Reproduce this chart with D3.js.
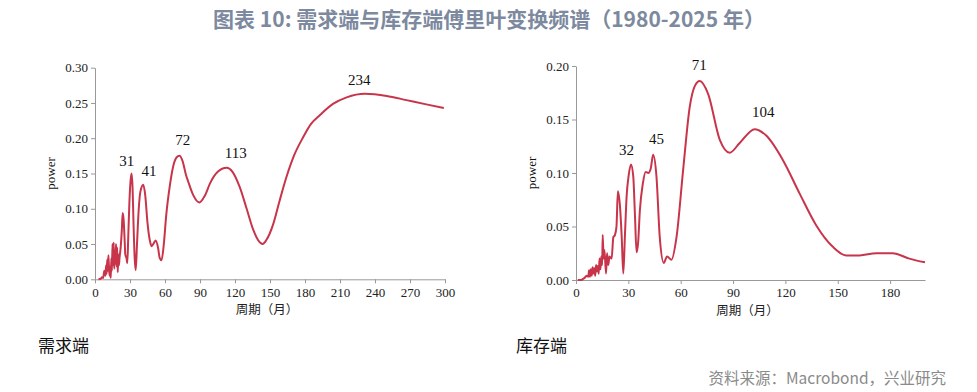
<!DOCTYPE html>
<html>
<head>
<meta charset="utf-8">
<script src="https://cdn.jsdelivr.net/npm/d3@7"></script>
<style>
  body { margin: 0; background: #fff; }
  svg { display: block; }
  .tick text { font-family: "Liberation Serif", serif; font-size: 13px; fill: #222; }
  .domain, .tick line { stroke: #999; }
</style>
</head>
<body>
<div id="chart"></div>
<script>
// demand side spectrum: period (months) and power
var demandPeriod = [3, 5, 6, 7, 8, 9, 9.5, 10, 10.5, 11, 11.5, 12, 12.5, 13, 13.5, 14, 14.5, 15, 15.5, 16, 16.5, 17, 17.5, 18, 18.5, 19, 19.5, 20, 20.5, 21, 22, 23, 23.7, 24.5, 25.3, 26, 27, 27.7, 28.5, 29.5, 30.5, 31.4, 32.2, 33, 34, 34.9, 36, 37.5, 39, 41.4, 43, 45, 47, 48.6, 50, 52, 54, 55.5, 57, 59, 61, 64, 67, 70, 72.3, 75, 78, 80, 84, 89.4, 94, 98.6, 105, 112.9, 118, 124, 130, 135.7, 140, 143.7, 147, 152.9, 158, 164.3, 171, 178.6, 185, 192.9, 204.3, 215.7, 231.4, 250, 267, 284, 299];
var demandPower = [0, 0.001, 0.003, 0.002, 0.012, 0.005, 0.02, 0.008, 0.028, 0.012, 0.034, 0.015, 0.005, 0.018, 0.002, 0.03, 0.012, 0.05, 0.02, 0.052, 0.015, 0.04, 0.022, 0.05, 0.018, 0.045, 0.01, 0.035, 0.02, 0.03, 0.045, 0.07, 0.094, 0.085, 0.06, 0.035, 0.03, 0.023, 0.06, 0.11, 0.14, 0.15, 0.13, 0.08, 0.03, 0.013, 0.05, 0.1, 0.125, 0.134, 0.12, 0.08, 0.055, 0.047, 0.05, 0.055, 0.045, 0.03, 0.027, 0.05, 0.09, 0.131, 0.16, 0.173, 0.175, 0.168, 0.148, 0.138, 0.12, 0.109, 0.118, 0.136, 0.152, 0.158, 0.152, 0.131, 0.1, 0.07, 0.055, 0.05, 0.056, 0.079, 0.11, 0.146, 0.177, 0.202, 0.22, 0.233, 0.249, 0.258, 0.263, 0.26, 0.254, 0.248, 0.243];

// inventory side spectrum
var stockPeriod = [1, 3, 4, 5, 6, 7, 7.5, 8, 8.5, 9, 9.5, 10, 10.5, 11, 11.5, 12, 12.5, 13, 13.5, 14, 14.5, 15, 15.3, 15.8, 16.3, 17.2, 17.8, 18.5, 19.2, 20.4, 21.4, 22.3, 23.2, 24, 25.2, 26.2, 27.1, 28, 29, 30.2, 31.5, 32.8, 33.8, 34.7, 35.6, 36.6, 38.3, 39.9, 41.4, 42.8, 44.2, 46.1, 48, 50.3, 52.2, 54.7, 57.6, 61.4, 65.2, 68, 70.9, 75.7, 82.4, 88.1, 93.8, 102.4, 109, 118.6, 128.1, 137.7, 147.2, 154.8, 162.5, 172, 181.5, 191, 200];
var stockPower = [0, 0, 0.001, 0.002, 0.004, 0.003, 0.009, 0.003, 0.01, 0.004, 0.012, 0.006, 0.011, 0.004, 0.014, 0.008, 0.013, 0.006, 0.02, 0.01, 0.022, 0.014, 0.042, 0.02, 0.028, 0.006, 0.025, 0.014, 0.022, 0.02, 0.04, 0.042, 0.05, 0.083, 0.069, 0.04, 0.006, 0.04, 0.078, 0.098, 0.108, 0.097, 0.06, 0.026, 0.035, 0.065, 0.09, 0.101, 0.1, 0.104, 0.117, 0.097, 0.04, 0.016, 0.022, 0.019, 0.04, 0.103, 0.162, 0.181, 0.186, 0.174, 0.131, 0.119, 0.128, 0.141, 0.135, 0.112, 0.081, 0.051, 0.031, 0.023, 0.023, 0.025, 0.025, 0.02, 0.0165];

// peak annotations: text and anchor in data units
var demandPeakText = ["31", "41", "72", "113", "234"];
var demandPeakX = [27.2, 46.3, 75.2, 120.6, 226.5];
var demandPeakY = [0.168, 0.153, 0.197, 0.179, 0.282];
var stockPeakText = ["32", "45", "71", "104"];
var stockPeakX = [29, 46.2, 70.7, 107.3];
var stockPeakY = [0.1215, 0.1315, 0.201, 0.157];

var demandXTicks = [0, 30, 60, 90, 120, 150, 180, 210, 240, 270, 300];
var demandYTicks = [0, 0.05, 0.10, 0.15, 0.20, 0.25, 0.30];
var stockXTicks = [0, 30, 60, 90, 120, 150, 180];
var stockYTicks = [0, 0.05, 0.10, 0.15, 0.20];

var width = 977, height = 392;
var lineColor = "#c8354b";

var svg = d3.select("#chart").append("svg")
  .attr("width", width)
  .attr("height", height);

svg.append("text")
  .attr("x", 489).attr("y", 27)
  .attr("text-anchor", "middle")
  .style("font-family", "'Noto Sans CJK SC', sans-serif")
  .style("font-size", "21px")
  .style("font-weight", "bold")
  .style("fill", "#7c899e")
  .text("图表 10: 需求端与库存端傅里叶变换频谱（1980-2025 年）");

function drawPanel(opt) {
  var x = d3.scaleLinear().domain(opt.xDomain).range([opt.left, opt.right]);
  var y = d3.scaleLinear().domain(opt.yDomain).range([opt.bottom, opt.top]);
  var g = svg.append("g");

  g.append("g")
    .attr("transform", "translate(0," + opt.bottom + ")")
    .call(d3.axisBottom(x).tickValues(opt.xTicks).tickSize(4).tickPadding(4).tickSizeOuter(0));

  g.append("g")
    .attr("transform", "translate(" + opt.left + ",0)")
    .call(d3.axisLeft(y).tickValues(opt.yTicks).tickFormat(d3.format(".2f")).tickSize(4).tickPadding(3).tickSizeOuter(0));

  var pts = opt.xs.map(function(d, i) { return [d, opt.ys[i]]; });
  var line = d3.line()
    .x(function(d) { return x(d[0]); })
    .y(function(d) { return y(d[1]); })
    .curve(d3.curveMonotoneX);

  g.append("path")
    .datum(pts)
    .attr("d", line)
    .attr("fill", "none")
    .attr("stroke", lineColor)
    .attr("stroke-width", 2)
    .attr("stroke-linejoin", "round");

  g.selectAll(".peak")
    .data(opt.peakText)
    .enter().append("text")
    .attr("x", function(d, i) { return x(opt.peakX[i]); })
    .attr("y", function(d, i) { return y(opt.peakY[i]) + 5; })
    .attr("text-anchor", "middle")
    .style("font-family", "'Liberation Serif', serif")
    .style("font-size", "15px")
    .style("fill", "#111")
    .text(function(d) { return d; });

  g.append("text")
    .attr("transform", "translate(" + (opt.left - 40) + "," + ((opt.top + opt.bottom) / 2) + ") rotate(-90)")
    .attr("text-anchor", "middle")
    .style("font-family", "'Liberation Serif', serif")
    .style("font-size", "13px")
    .style("fill", "#111")
    .text("power");

  g.append("text")
    .attr("x", (opt.left + opt.right) / 2 - 3)
    .attr("y", opt.bottom + 35)
    .attr("text-anchor", "middle")
    .style("font-family", "'Noto Sans CJK SC', sans-serif")
    .style("font-size", "12.5px")
    .style("fill", "#222")
    .text("周期（月）");

  g.append("text")
    .attr("x", opt.nameX)
    .attr("y", 352)
    .style("font-family", "'Noto Sans CJK SC', sans-serif")
    .style("font-size", "17px")
    .style("fill", "#111")
    .text(opt.name);
}

drawPanel({
  left: 95, right: 445, top: 67.7, bottom: 279.3,
  xDomain: [0, 300], yDomain: [0, 0.30],
  xTicks: demandXTicks, yTicks: demandYTicks,
  xs: demandPeriod, ys: demandPower,
  peakText: demandPeakText, peakX: demandPeakX, peakY: demandPeakY,
  name: "需求端", nameX: 38
});

drawPanel({
  left: 576, right: 925, top: 66, bottom: 280,
  xDomain: [0, 200], yDomain: [0, 0.20],
  xTicks: stockXTicks, yTicks: stockYTicks,
  xs: stockPeriod, ys: stockPower,
  peakText: stockPeakText, peakX: stockPeakX, peakY: stockPeakY,
  name: "库存端", nameX: 516
});

svg.append("text")
  .attr("x", 946).attr("y", 384)
  .attr("text-anchor", "end")
  .style("font-family", "'Noto Sans CJK SC', sans-serif")
  .style("font-size", "15.5px")
  .style("fill", "#8a8a8a")
  .text("资料来源：Macrobond，兴业研究");
</script>
</body>
</html>
